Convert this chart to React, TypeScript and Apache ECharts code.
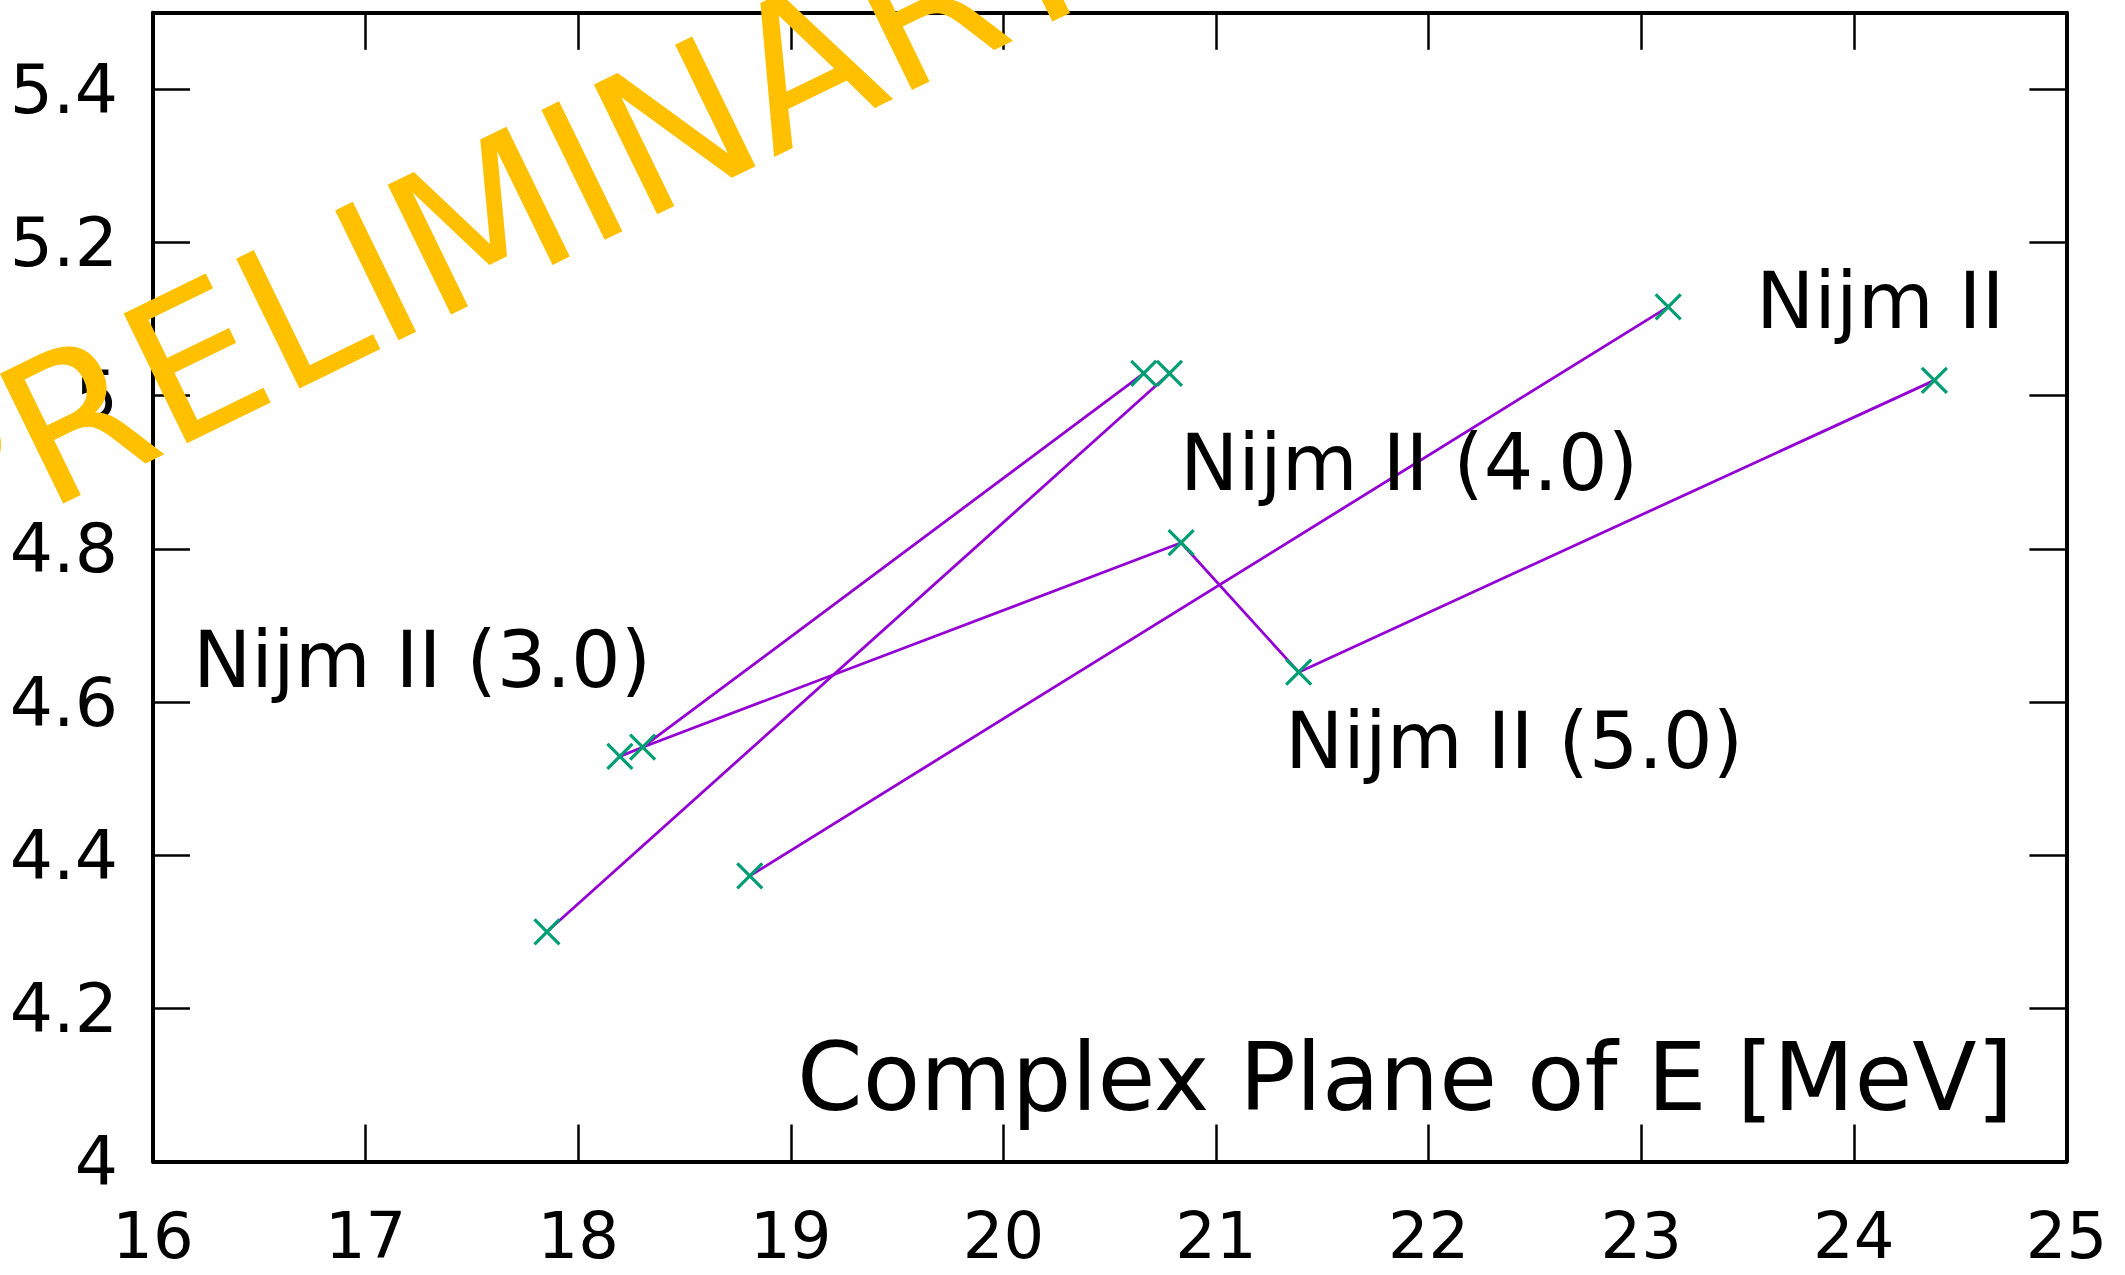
import React, { useEffect, useRef } from 'react';
import * as echarts from 'echarts';

// Pole positions in the complex energy plane (Re E, Im E) [MeV]
const poleRe = [17.853, 18.196, 18.303, 18.807, 20.66, 20.781, 20.836, 21.389, 23.127, 24.379];
const poleIm = [4.3, 4.529, 4.541, 4.373, 5.029, 5.029, 4.808, 4.639, 5.116, 5.02];
// Which poles are joined by the purple lines (indices into the arrays above)
const trajectories = [
  [0, 5],
  [1, 2, 4],
  [2, 6, 7, 9],
  [3, 8],
];

const xMin = 16;
const xMax = 25;
const xStep = 1;
const yMin = 4;
const yMax = 5.5;
const yStep = 0.2;

const labelTexts = ['Nijm II (3.0)', 'Nijm II (4.0)', 'Nijm II', 'Nijm II (5.0)'];
const titleText = 'Complex Plane of E [MeV]';
const watermarkText = 'PRELIMINARY';

const FONT = 'DejaVu Sans';

export default function App() {
  const ref = useRef<HTMLDivElement>(null);

  useEffect(() => {
    if (!ref.current) return;
    const chart = echarts.init(ref.current, null, { renderer: 'svg' });

    const axisLineStyle = { show: true, onZero: false, lineStyle: { color: '#000', width: 4 } };
    const axisTickStyle = { show: true, inside: true, length: 37, lineStyle: { color: '#000', width: 2.5 } };

    const lineSeries = trajectories.map((idx) => ({
      type: 'line',
      xAxisIndex: 0,
      yAxisIndex: 0,
      data: idx.map((i) => [poleRe[i], poleIm[i]]),
      symbol: 'none',
      lineStyle: { color: '#9400D3', width: 2.8 },
      z: 2,
    }));

    const labelPos = [
      [193, 660],
      [1180, 463],
      [1756, 301],
      [1285, 741],
    ];

    const option = {
      animation: false,
      backgroundColor: '#fff',
      grid: { left: 153, right: 58.6, top: 12.8, bottom: 113.5, containLabel: false },
      xAxis: [
        {
          type: 'value',
          position: 'bottom',
          min: xMin,
          max: xMax,
          interval: xStep,
          axisLine: axisLineStyle,
          axisTick: axisTickStyle,
          splitLine: { show: false },
          axisLabel: { fontSize: 64, fontFamily: FONT, color: '#000', margin: 42, lineHeight: 64 },
        },
        {
          type: 'value',
          position: 'top',
          min: xMin,
          max: xMax,
          interval: xStep,
          axisLine: axisLineStyle,
          axisTick: axisTickStyle,
          splitLine: { show: false },
          axisLabel: { show: false },
        },
      ],
      yAxis: [
        {
          type: 'value',
          position: 'left',
          min: yMin,
          max: yMax,
          interval: yStep,
          axisLine: axisLineStyle,
          axisTick: axisTickStyle,
          splitLine: { show: false },
          axisLabel: { fontSize: 68, fontFamily: FONT, color: '#000', margin: 35, showMaxLabel: false },
        },
        {
          type: 'value',
          position: 'right',
          min: yMin,
          max: yMax,
          interval: yStep,
          axisLine: axisLineStyle,
          axisTick: axisTickStyle,
          splitLine: { show: false },
          axisLabel: { show: false },
        },
      ],
      series: [
        ...lineSeries,
        {
          type: 'scatter',
          xAxisIndex: 0,
          yAxisIndex: 0,
          data: poleRe.map((x, i) => [x, poleIm[i]]),
          symbol: 'path://M0,0L10,10M10,0L0,10',
          symbolSize: 25,
          itemStyle: { color: '#009E73', borderColor: '#009E73', borderWidth: 3.2, opacity: 1 },
          z: 3,
        },
      ],
      graphic: [
        ...labelTexts.map((t, i) => ({
          type: 'text',
          x: labelPos[i][0],
          y: labelPos[i][1],
          z: 10,
          style: {
            text: t,
            fontSize: 78,
            fontFamily: FONT,
            fill: '#000',
            align: 'left',
            verticalAlign: 'middle',
            textAlign: 'left',
            textVerticalAlign: 'middle',
          },
        })),
        {
          type: 'text',
          x: 797,
          y: 1077,
          z: 10,
          style: {
            text: titleText,
            fontSize: 94,
            fontFamily: FONT,
            fill: '#000',
            align: 'left',
            verticalAlign: 'middle',
            textAlign: 'left',
            textVerticalAlign: 'middle',
          },
        },
        {
          type: 'text',
          x: 497,
          y: 216,
          rotation: (26 * Math.PI) / 180,
          z: 100,
          style: {
            text: watermarkText,
            fontSize: 198,
            fontFamily: FONT,
            fill: '#FFC000',
            align: 'center',
            verticalAlign: 'middle',
            textAlign: 'center',
            textVerticalAlign: 'middle',
          },
        },
      ],
    };

    chart.setOption(option as any);
    return () => chart.dispose();
  }, []);

  return (
    <div
      ref={ref}
      style={{ position: 'absolute', left: 0, top: 0, width: 2125, height: 1275, background: '#fff' }}
    />
  );
}
